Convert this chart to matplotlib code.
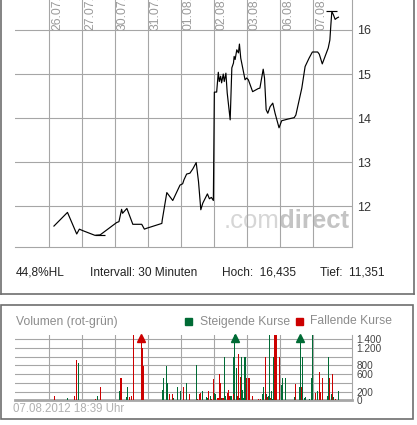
import matplotlib
matplotlib.use("Agg")
import matplotlib.pyplot as plt
from matplotlib.patches import Rectangle
from matplotlib.lines import Line2D

plt.rcParams['font.family'] = ['Liberation Sans', 'DejaVu Sans']

W, H = 417, 425

# x values are trading days since 26.07. (0 = start of 26.07., 1 = 27.07., ...)
day_labels = ['26.07.', '27.07.', '30.07.', '31.07.', '01.08.',
              '02.08.', '03.08.', '06.08.', '07.08.']

price_t = [0.14, 0.55, 0.83, 0.91, 1.00, 1.38, 1.54, 2.04, 2.11, 2.19, 2.22, 2.35,
           2.53, 2.80, 2.88, 2.95, 3.41, 3.42, 3.56, 3.74, 3.96, 4.04, 4.08, 4.16,
           4.26, 4.35, 4.45, 4.52, 4.59, 4.65, 4.79, 4.85, 4.91, 4.97, 5.00, 5.07,
           5.12, 5.15, 5.19, 5.22, 5.27, 5.30, 5.35, 5.39, 5.48, 5.53, 5.58, 5.60,
           5.63, 5.68, 5.73, 5.76, 5.80, 5.88, 5.93, 5.98, 6.03, 6.16, 6.33, 6.38,
           6.45, 6.48, 6.52, 6.57, 6.62, 6.69, 6.77, 6.84, 6.96, 7.04, 7.24, 7.42,
           7.47, 7.65, 7.75, 7.87, 7.97, 8.13, 8.18, 8.27, 8.45, 8.50, 8.53, 8.56,
           8.61, 8.66, 8.71, 8.76]
price_v = [11.55, 11.86, 11.37, 11.48, 11.45, 11.34, 11.35, 11.63, 11.65, 11.93, 11.84, 11.95,
           11.59, 11.59, 11.48, 11.50, 11.61, 11.68, 12.31, 12.13, 12.48, 12.51, 12.60, 12.73,
           12.75, 12.85, 12.99, 12.56, 11.92, 12.07, 12.28, 12.17, 12.20, 12.13, 14.59, 14.59,
           15.04, 14.83, 14.95, 14.80, 15.00, 14.83, 15.02, 14.57, 13.96, 15.14, 15.25, 15.40,
           15.33, 15.55, 15.48, 15.68, 15.36, 15.06, 14.87, 14.91, 14.87, 14.60, 14.67, 14.68,
           14.98, 15.11, 14.91, 14.19, 14.11, 14.26, 14.34, 14.11, 13.78, 13.94, 13.98, 14.01,
           14.07, 14.68, 15.17, 15.36, 15.50, 15.50, 15.45, 15.23, 15.59, 15.77, 16.11, 16.42,
           16.34, 16.24, 16.27, 16.29]

hoch, hoch_t = 16.435, 8.56
tief, tief_t = 11.351, 1.54
price_ticks = [12, 13, 14, 15, 16]

up_t = [0.55, 0.88, 1.45, 2.12, 2.20, 2.33, 2.36, 3.42, 3.45, 3.55, 3.58, 3.77, 3.88,
        3.97, 4.15, 4.45, 4.64, 4.76, 4.79, 4.88, 5.01, 5.04, 5.21, 5.32, 5.35, 5.48,
        5.53, 5.57, 5.62, 5.66, 5.76, 5.83, 5.86, 5.89, 5.93, 6.45, 6.49, 6.58, 6.64,
        6.67, 6.73, 6.77, 6.80, 7.03, 7.07, 7.16, 7.42, 7.58, 7.61, 7.67, 7.73, 7.76,
        7.88, 7.94, 7.98, 8.13, 8.42, 8.45, 8.55, 8.61, 8.76]
up_v = [55, 865, 100, 215, 505, 85, 305, 237, 505, 790, 405, 45, 305,
        215, 390, 810, 215, 75, 55, 100, 160, 145, 55, 990, 100, 107,
        100, 990, 2200, 735, 45, 1005, 237, 45, 1005, 145, 300, 145, 100,
        1500, 215, 30, 1005, 350, 505, 505, 85, 305, 2200, 1005, 55, 85,
        30, 505, 1500, 215, 100, 1005, 145, 85, 215]

down_t = [0.15, 0.76, 0.82, 1.39, 1.55, 2.17, 2.42, 2.48, 2.55, 2.79, 2.82, 2.85,
          3.64, 3.73, 4.06, 4.24, 4.49, 4.55, 4.58, 4.82, 4.91, 4.97, 5.11, 5.15,
          5.18, 5.24, 5.27, 5.39, 5.42, 5.45, 5.58, 5.70, 5.73, 5.79, 5.98, 6.05,
          6.15, 6.35, 6.39, 6.54, 6.61, 6.70, 6.82, 6.85, 6.88, 6.97, 7.45, 7.64,
          8.06, 8.18, 8.21, 8.27, 8.48, 8.58, 8.67]
down_v = [100, 100, 930, 20, 305, 505, 85, 100, 1500, 2400, 1195, 790,
          145, 145, 305, 145, 30, 145, 175, 215, 30, 480, 60, 610,
          390, 55, 55, 160, 237, 107, 145, 107, 1065, 530, 505, 505,
          100, 30, 30, 1005, 85, 45, 1500, 1500, 1500, 990, 375, 300,
          175, 645, 200, 505, 505, 610, 30]

vol_ticks = [0, 200, 600, 800, 1200, 1400]
vol_tick_labels = ['0', '200', '600', '800', '1.200', '1.400']
vol_grid = [200, 400, 600, 800, 1000, 1200, 1400]

GRID = '#a6a6a6'
GREEN = '#006b35'
RED = '#cc0000'
BORDER = '#6e6e6e'


def fx(x):
    return x / W


def fy(y):
    return 1 - y / H


fig = plt.figure(figsize=(W / 100, H / 100), dpi=100)

# ---- price chart
ax = fig.add_axes([fx(15), fy(247.3), fx(352.3) - fx(15), 247.3 / H])
ax.set_xlim(-1.04, 9.18)
ax.set_ylim(11.068, 16.68)
for s in ['top', 'left']:
    ax.spines[s].set_visible(False)
for s in ['bottom', 'right']:
    ax.spines[s].set_color(GRID)
    ax.spines[s].set_linewidth(0.8)
for v in price_ticks:
    ax.axhline(v, color=GRID, lw=0.8, zorder=2)
for i in range(len(day_labels)):
    ax.axvline(i, color=GRID, lw=0.8, zorder=2)
    ax.text(i + 0.05, 16, day_labels[i], rotation=90, ha='left', va='bottom',
            fontsize=8.7, color='#9a9a9a', clip_on=True)
ax.set_xticks([])
ax.yaxis.tick_right()
ax.set_yticks(price_ticks)
ax.tick_params(axis='y', length=0, pad=3.5, labelsize=9, labelcolor='#333333')

ax.plot(price_t, price_v, color='black', lw=0.85, zorder=4)
ax.hlines([hoch], hoch_t - 0.17, hoch_t + 0.15, color='black', lw=0.85, zorder=4)
ax.hlines([tief], tief_t - 0.16, tief_t + 0.15, color='black', lw=0.85, zorder=4)

ax.text(fx(279), fy(228.3), '.com', transform=fig.transFigure, ha='right',
        va='baseline', fontsize=18.5, color='#d6d6d6', zorder=1)
ax.text(fx(279), fy(228.3), 'direct', transform=fig.transFigure, ha='left',
        va='baseline', fontsize=18.5, fontweight='bold', color='#c4c4c4', zorder=1)

fig.text(fx(16), fy(272.5), '44,8%HL', va='center', fontsize=8.6, color='#222222')
fig.text(fx(90.5), fy(272.5), 'Intervall: 30 Minuten', va='center', fontsize=8.6, color='#222222')
fig.text(fx(222.5), fy(272.5), 'Hoch:  16,435', va='center', fontsize=8.6, color='#222222')
fig.text(fx(320), fy(272.5), 'Tief:  11,351', va='center', fontsize=8.6, color='#222222')

# ---- volume chart
vax = fig.add_axes([fx(15), fy(400.3), fx(352.3) - fx(15), (400.3 - 335) / H])
vax.set_xlim(-1.04, 9.18)
vax.set_ylim(0, 1500)
for s in ['top', 'left']:
    vax.spines[s].set_visible(False)
vax.spines['right'].set_color(GRID)
vax.spines['right'].set_linewidth(0.8)
vax.spines['bottom'].set_color(GRID)
vax.spines['bottom'].set_linewidth(2)
for v in vol_grid:
    vax.axhline(v, color=GRID, lw=0.8, zorder=1)
for i in range(len(day_labels)):
    vax.axvline(i, color=GRID, lw=0.8, zorder=1)
vax.set_xticks([])
vax.yaxis.tick_right()
vax.set_yticks(vol_ticks)
vax.set_yticklabels(vol_tick_labels)
vax.tick_params(axis='y', length=0, pad=3, labelsize=7.2, labelcolor='#444444')

vax.bar(up_t, up_v, width=0.034, color=GREEN, lw=0, zorder=3)
vax.bar(down_t, down_v, width=0.034, color=RED, lw=0, zorder=3)
ymax = vax.get_ylim()[1]
for ts, vs, c in [(up_t, up_v, GREEN), (down_t, down_v, RED)]:
    over = [t for t, v in zip(ts, vs) if v > ymax]
    vax.plot(over, [ymax * 0.955] * len(over), ls='none', marker='^',
             ms=5.5, color=c, clip_on=False, zorder=4)

fig.text(fx(16), fy(321.5), 'Volumen (rot-grün)', va='center', fontsize=8.7, color='#8c8c8c')
fig.add_artist(Rectangle((fx(185), fy(325)), fx(7), 7 / H, color=GREEN, transform=fig.transFigure))
fig.text(fx(200.5), fy(321.5), 'Steigende Kurse', va='center', fontsize=8.7, color='#8c8c8c')
fig.add_artist(Rectangle((fx(295.5), fy(325)), fx(7), 7 / H, color=RED, transform=fig.transFigure))
fig.text(fx(310), fy(321.5), 'Fallende Kurse', va='center', fontsize=8.7, color='#8c8c8c')
fig.text(fx(13), fy(409.5), '07.08.2012 18:39 Uhr', va='center', fontsize=8.3, color='#b0b0b0')

# ---- panel frames
for (x0, y0, x1, y1) in [(1, 0, 1, 294), (1, 294, 414, 294), (414, 0, 414, 294)]:
    fig.add_artist(Line2D([fx(x0), fx(x1)], [fy(y0), fy(y1)], color=BORDER, lw=1.2,
                          transform=fig.transFigure))
fig.add_artist(Rectangle((fx(1), fy(419)), fx(413) - fx(1), (419 - 305) / H, fill=False,
                         edgecolor=BORDER, lw=1.2, transform=fig.transFigure))

fig.savefig('out.png', dpi=100)
